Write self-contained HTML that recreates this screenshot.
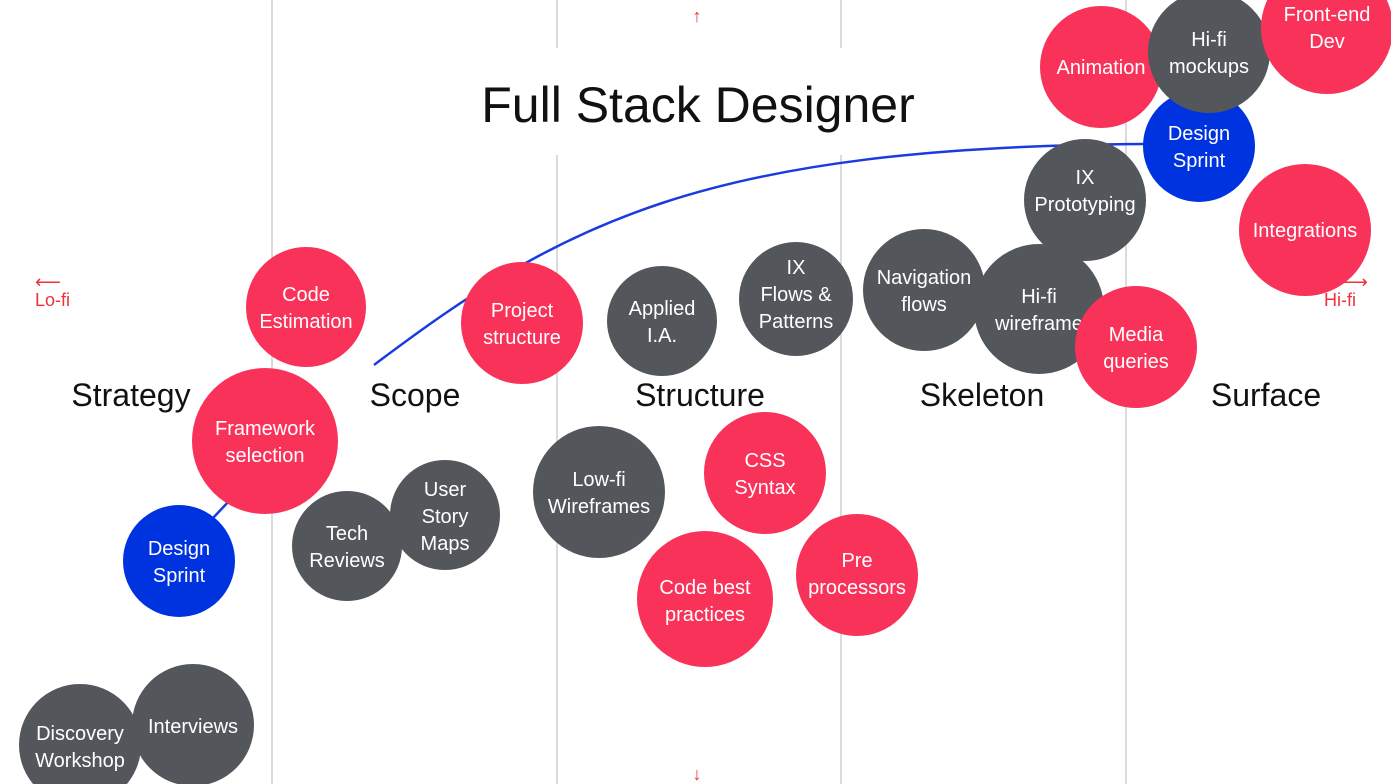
<!DOCTYPE html>
<html><head><meta charset="utf-8"><style>
html,body{margin:0;padding:0;background:#fff;width:1391px;height:784px;overflow:hidden}
svg{display:block}
text{font-family:"Liberation Sans","DejaVu Sans",sans-serif}
.n{fill:#fff;font-size:20px;text-anchor:middle}
.s{fill:#111;font-size:32px;text-anchor:middle}
.r{fill:#f9325a}.g{fill:#53565b}.b{fill:#0033e0}
.red{fill:#f0303a;font-size:18px}
</style></head><body>
<svg width="1391" height="784" viewBox="0 0 1391 784">
<g stroke="#cfcfcf" stroke-width="1.5">
<line x1="272" y1="0" x2="272" y2="784"/>
<line x1="557" y1="0" x2="557" y2="48"/><line x1="557" y1="155" x2="557" y2="784"/>
<line x1="841" y1="0" x2="841" y2="48"/><line x1="841" y1="155" x2="841" y2="784"/>
<line x1="1126" y1="0" x2="1126" y2="784"/>
</g>
<text x="698" y="122" style="font-size:50px;fill:#111;text-anchor:middle">Full Stack Designer</text>
<text x="697" y="22" class="red" text-anchor="middle">↑</text>
<text x="697" y="780" class="red" text-anchor="middle">↓</text>
<text x="35" y="288" class="red">⟵</text>
<text x="35" y="306" class="red">Lo-fi</text>
<text x="1342" y="288" class="red">⟶</text>
<text x="1324" y="306" class="red">Hi-fi</text>
<text x="131" y="406" class="s">Strategy</text>
<text x="415" y="406" class="s">Scope</text>
<text x="700" y="406" class="s">Structure</text>
<text x="982" y="406" class="s">Skeleton</text>
<text x="1266" y="406" class="s">Surface</text>
<path d="M374 365 C 560 225, 700 146, 1150 144" fill="none" stroke="#1a3be0" stroke-width="2.5"/>
<line x1="213" y1="518" x2="230" y2="500" stroke="#1a3be0" stroke-width="2.5"/>

<circle cx="306" cy="307" r="60" class="r"/><text class="n" x="306" y="301">Code</text><text class="n" x="306" y="328">Estimation</text>
<circle cx="265" cy="441" r="73" class="r"/><text class="n" x="265" y="435">Framework</text><text class="n" x="265" y="462">selection</text>
<circle cx="179" cy="561" r="56" class="b"/><text class="n" x="179" y="555">Design</text><text class="n" x="179" y="582">Sprint</text>
<circle cx="80" cy="745" r="61" class="g"/><text class="n" x="80" y="740">Discovery</text><text class="n" x="80" y="767">Workshop</text>
<circle cx="193" cy="725" r="61" class="g"/><text class="n" x="193" y="733">Interviews</text>
<circle cx="347" cy="546" r="55" class="g"/><text class="n" x="347" y="540">Tech</text><text class="n" x="347" y="567">Reviews</text>
<circle cx="445" cy="515" r="55" class="g"/><text class="n" x="445" y="496">User</text><text class="n" x="445" y="523">Story</text><text class="n" x="445" y="550">Maps</text>
<circle cx="522" cy="323" r="61" class="r"/><text class="n" x="522" y="317">Project</text><text class="n" x="522" y="344">structure</text>
<circle cx="662" cy="321" r="55" class="g"/><text class="n" x="662" y="315">Applied</text><text class="n" x="662" y="342">I.A.</text>
<circle cx="796" cy="299" r="57" class="g"/><text class="n" x="796" y="274">IX</text><text class="n" x="796" y="301">Flows &amp;</text><text class="n" x="796" y="328">Patterns</text>
<circle cx="599" cy="492" r="66" class="g"/><text class="n" x="599" y="486">Low-fi</text><text class="n" x="599" y="513">Wireframes</text>
<circle cx="765" cy="473" r="61" class="r"/><text class="n" x="765" y="467">CSS</text><text class="n" x="765" y="494">Syntax</text>
<circle cx="705" cy="599" r="68" class="r"/><text class="n" x="705" y="594">Code best</text><text class="n" x="705" y="621">practices</text>
<circle cx="857" cy="575" r="61" class="r"/><text class="n" x="857" y="567">Pre</text><text class="n" x="857" y="594">processors</text>
<circle cx="924" cy="290" r="61" class="g"/><text class="n" x="924" y="284">Navigation</text><text class="n" x="924" y="311">flows</text>
<circle cx="1085" cy="200" r="61" class="g"/><text class="n" x="1085" y="184">IX</text><text class="n" x="1085" y="211">Prototyping</text>
<circle cx="1039" cy="309" r="65" class="g"/><text class="n" x="1039" y="303">Hi-fi</text><text class="n" x="1039" y="330">wireframe</text>
<circle cx="1136" cy="347" r="61" class="r"/><text class="n" x="1136" y="341">Media</text><text class="n" x="1136" y="368">queries</text>
<circle cx="1199" cy="146" r="56" class="b"/><text class="n" x="1199" y="140">Design</text><text class="n" x="1199" y="167">Sprint</text>
<circle cx="1101" cy="67" r="61" class="r"/><text class="n" x="1101" y="74">Animation</text>
<circle cx="1209" cy="52" r="61" class="g"/><text class="n" x="1209" y="46">Hi-fi</text><text class="n" x="1209" y="73">mockups</text>
<circle cx="1327" cy="28" r="66" class="r"/><text class="n" x="1327" y="21">Front-end</text><text class="n" x="1327" y="48">Dev</text>
<circle cx="1305" cy="230" r="66" class="r"/><text class="n" x="1305" y="237">Integrations</text>
</svg>
</body></html>
